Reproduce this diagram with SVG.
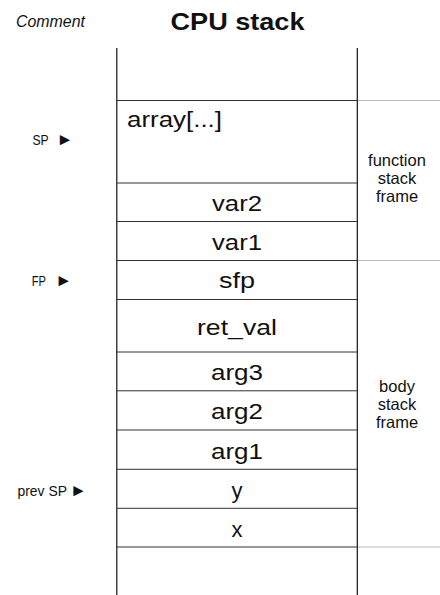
<svg xmlns="http://www.w3.org/2000/svg" width="440" height="595" viewBox="0 0 440 595">
<style>
.cell{font-family:"Liberation Sans",Arial,sans-serif;font-size:22px;fill:#111;text-anchor:middle}
.side{font-family:"Liberation Sans",Arial,sans-serif;font-size:14px;fill:#111}
.tri{font-family:"Liberation Sans",Arial,sans-serif;font-size:17px}
.frame{font-family:"Liberation Sans",Arial,sans-serif;font-size:16.5px;fill:#111;text-anchor:middle}
.sep{stroke:#333;stroke-width:1;fill:none}
.wall{stroke:#111;stroke-width:1.2;fill:none}
.gray{stroke:#bbb;stroke-width:1;fill:none}
</style>
<rect width="440" height="595" fill="#fff"/>
<g id="header">
<text x="16" y="27" font-family="Liberation Sans,Arial,sans-serif" font-style="italic" font-size="16" fill="#111" textLength="69" lengthAdjust="spacingAndGlyphs">Comment</text>
<text x="237.5" y="29.5" font-family="Liberation Sans,Arial,sans-serif" font-weight="bold" font-size="23" fill="#111" text-anchor="middle" textLength="134" lengthAdjust="spacingAndGlyphs">CPU stack</text>
</g>
<g id="stack-walls">
<line class="wall" x1="116.8" y1="48" x2="116.8" y2="595"/>
<line class="wall" x1="357.3" y1="48" x2="357.3" y2="595"/>
</g>
<g id="separators">
<line class="sep" x1="117" y1="100.5" x2="357" y2="100.5"/>
<line class="sep" x1="117" y1="183" x2="357" y2="183"/>
<line class="sep" x1="117" y1="221.5" x2="357" y2="221.5"/>
<line class="sep" x1="117" y1="260.5" x2="357" y2="260.5"/>
<line class="sep" x1="117" y1="299.5" x2="357" y2="299.5"/>
<line class="sep" x1="117" y1="352" x2="357" y2="352"/>
<line class="sep" x1="117" y1="390.8" x2="357" y2="390.8"/>
<line class="sep" x1="117" y1="430" x2="357" y2="430"/>
<line class="sep" x1="117" y1="469.3" x2="357" y2="469.3"/>
<line class="sep" x1="117" y1="508.3" x2="357" y2="508.3"/>
<line class="sep" x1="117" y1="547" x2="357" y2="547"/>
</g>
<g id="connectors">
<line class="gray" x1="358" y1="100.5" x2="440" y2="100.5"/>
<line class="gray" x1="358" y1="260.5" x2="440" y2="260.5"/>
<line class="gray" x1="358" y1="547" x2="440" y2="547"/>
</g>
<g id="cell-array"><text class="cell" x="127" y="127" style="text-anchor:start" textLength="95" lengthAdjust="spacingAndGlyphs">array[...]</text></g>
<g id="cell-var2"><text class="cell" x="237" y="211" textLength="50" lengthAdjust="spacingAndGlyphs">var2</text></g>
<g id="cell-var1"><text class="cell" x="237" y="249.5" textLength="50" lengthAdjust="spacingAndGlyphs">var1</text></g>
<g id="cell-sfp"><text class="cell" x="237" y="287.5" textLength="36" lengthAdjust="spacingAndGlyphs">sfp</text></g>
<g id="cell-ret_val"><text class="cell" x="237" y="335" textLength="80" lengthAdjust="spacingAndGlyphs">ret_val</text></g>
<g id="cell-arg3"><text class="cell" x="237" y="380" textLength="52" lengthAdjust="spacingAndGlyphs">arg3</text></g>
<g id="cell-arg2"><text class="cell" x="237" y="418.5" textLength="52" lengthAdjust="spacingAndGlyphs">arg2</text></g>
<g id="cell-arg1"><text class="cell" x="237" y="459" textLength="52" lengthAdjust="spacingAndGlyphs">arg1</text></g>
<g id="cell-y"><text class="cell" x="237" y="497.5">y</text></g>
<g id="cell-x"><text class="cell" x="237" y="536.5">x</text></g>
<g id="label-sp"><text class="side" y="145"><tspan x="32.5" textLength="16" lengthAdjust="spacingAndGlyphs">SP</tspan> <tspan class="tri" x="56.5">►</tspan></text></g>
<g id="label-fp"><text class="side" y="285.7"><tspan x="31.7" textLength="14" lengthAdjust="spacingAndGlyphs">FP</tspan> <tspan class="tri" x="55.3">►</tspan></text></g>
<g id="label-prevsp"><text class="side" y="496"><tspan x="17.5" textLength="49.5" lengthAdjust="spacingAndGlyphs">prev SP</tspan><tspan class="tri" x="70">►</tspan></text></g>
<g id="frame-function">
<text class="frame" x="397" y="166">function</text>
<text class="frame" x="397" y="184">stack</text>
<text class="frame" x="397" y="202">frame</text>
</g>
<g id="frame-body">
<text class="frame" x="397" y="392">body</text>
<text class="frame" x="397" y="410">stack</text>
<text class="frame" x="397" y="428">frame</text>
</g>
</svg>
